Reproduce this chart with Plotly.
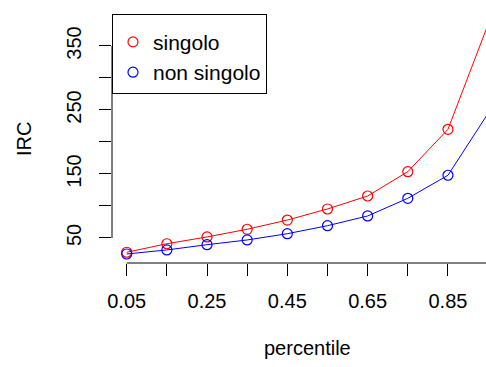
import plotly.graph_objects as go

percentile = [0.05, 0.15, 0.25, 0.35, 0.45, 0.55, 0.65, 0.75, 0.85, 0.95]
singolo = [27.7, 41, 51.6, 63.6, 78, 95.3, 115.6, 153.6, 219.8, 384]
non_singolo = [25, 31.3, 39.5, 46.9, 56.7, 69.2, 84.4, 112, 148, 244.8]

x_ticks = [0.05, 0.15, 0.25, 0.35, 0.45, 0.55, 0.65, 0.75, 0.85, 0.95]
x_ticktext = ["0.05", "", "0.25", "", "0.45", "", "0.65", "", "0.85", ""]
y_ticks = [50, 100, 150, 200, 250, 300, 350]
y_ticktext = ["50", "", "150", "", "250", "", "350"]

FONT = "Liberation Sans, Arial, Helvetica, sans-serif"

fig = go.Figure()
for name, vals, col in [("singolo", singolo, "red"), ("non singolo", non_singolo, "blue")]:
    fig.add_trace(go.Scatter(x=percentile, y=vals, mode="lines", line=dict(color=col, width=1),
                             showlegend=False, cliponaxis=False, hoverinfo="skip"))
    fig.add_trace(go.Scatter(x=percentile, y=vals, mode="markers", name=name,
                             marker=dict(symbol="circle-open", size=10, color=col, line=dict(width=1.2, color=col)),
                             cliponaxis=False))

fig.update_layout(
    width=486, height=367,
    margin=dict(l=112, r=0, t=15, b=104),
    paper_bgcolor="white", plot_bgcolor="white",
    font=dict(family=FONT, size=20, color="black"),
    legend=dict(x=0, y=1.003, xanchor="left", yanchor="top", bordercolor="black", borderwidth=1,
                bgcolor="white", font=dict(size=21), tracegroupgap=0, itemwidth=30,
                title=dict(text=" ", font=dict(size=5))),
    xaxis=dict(range=[0.0134, 0.9447], tickvals=x_ticks, ticktext=x_ticktext, ticks="outside",
               ticklen=12, tickcolor="black", tickwidth=1, showgrid=False, zeroline=False,
               showline=False, ticklabelstandoff=8),
    yaxis=dict(range=[10.9, 398.4], tickvals=y_ticks, ticktext=y_ticktext, ticks="outside",
               ticklen=12, tickcolor="black", tickwidth=1, showgrid=False, zeroline=False,
               showline=False, tickangle=-90, ticklabelstandoff=10),
    showlegend=True,
)

# R-style axis lines spanning first to last tick
fig.add_shape(type="line", xref="x", yref="paper", x0=min(x_ticks), x1=max(x_ticks), y0=0, y1=0,
              line=dict(color="black", width=1))
fig.add_shape(type="line", xref="paper", yref="y", x0=0, x1=0, y0=min(y_ticks), y1=max(y_ticks),
              line=dict(color="black", width=1))

fig.add_annotation(text="percentile", xref="x", yref="paper", x=sum(percentile) / len(percentile), y=0,
                   yanchor="middle", yshift=-85, showarrow=False, font=dict(size=20))
fig.add_annotation(text="IRC", xref="paper", yref="paper", x=0, y=0.5, xanchor="center",
                   xshift=-88, textangle=-90, showarrow=False, font=dict(size=20))

fig.write_html("out.html", config={"displayModeBar": False},
               post_script="document.body.style.margin='0';document.body.style.overflow='hidden';")
